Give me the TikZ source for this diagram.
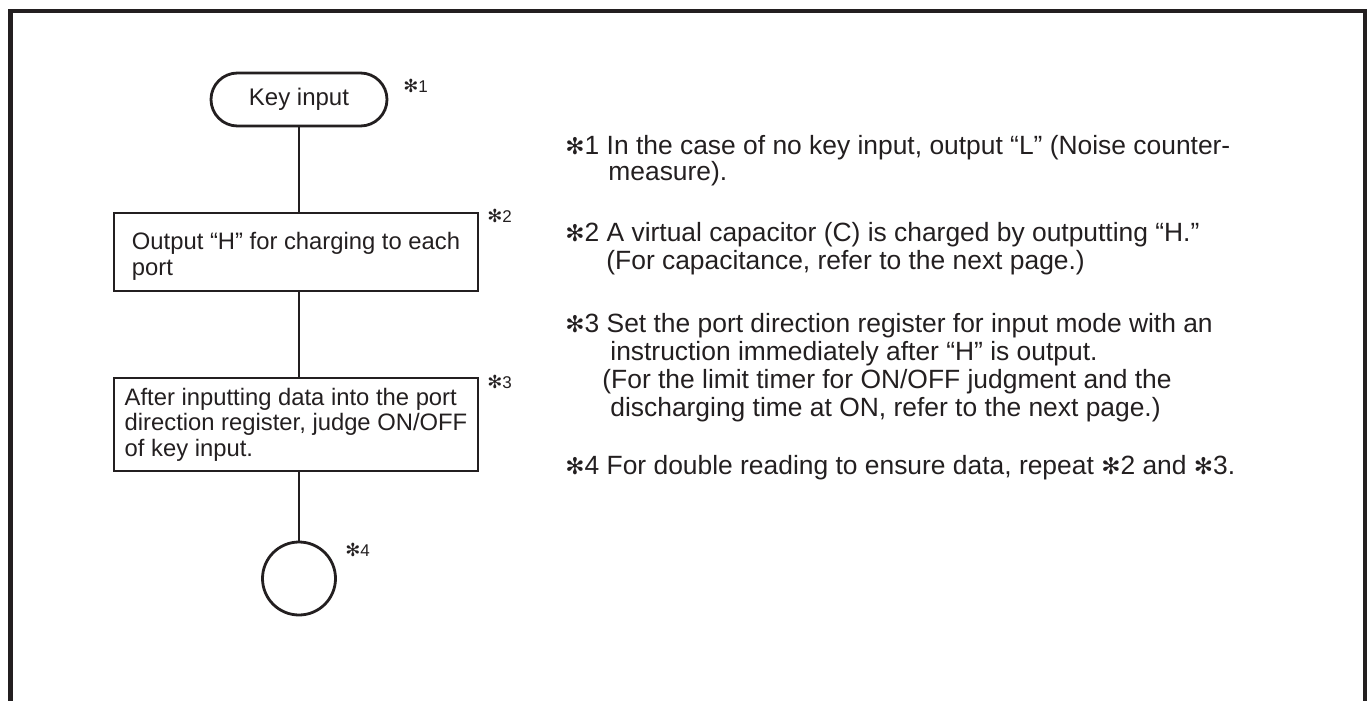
\documentclass[tikz,border=0pt]{standalone}
\usepackage{fontspec}
\setmainfont{Liberation Sans}
\newfontfamily\dv{DejaVu Sans}
\usetikzlibrary{shapes.misc}
\definecolor{ink}{RGB}{35,31,32}
\newcommand{\ak}{{\dv\fontsize{11.5}{11.5}\selectfont ✻}}
\newcommand{\sak}{{\dv\fontsize{9}{9}\selectfont ✻}}
\begin{document}
\begin{tikzpicture}[x=0.5pt,y=-0.5pt,
  every node/.style={text=ink},
  frame/.style={draw=ink, line width=2.2pt},
  conn/.style={draw=ink, line width=1.4pt},
  term/.style={draw=ink, line width=1.4pt, rounded rectangle, minimum width=88pt, minimum height=26.5pt, inner sep=0pt, font=\fontsize{12}{12}\selectfont},
  box/.style={draw=ink, line width=1.4pt, rectangle, minimum width=182pt, align=left, inner sep=0pt, font=\fontsize{11.9}{12.8}\selectfont},
  conn2/.style={draw=ink, line width=1.4pt, circle, minimum size=36.5pt, inner sep=0pt},
  starlbl/.style={anchor=west, inner sep=0pt, font=\fontsize{8.5}{8.5}\selectfont},
  note/.style={anchor=base west, inner sep=0pt, font=\fontsize{13.2}{13.2}\selectfont}]
\useasboundingbox (0,0) rectangle (1371,701);
\draw[frame] (10.5,701) -- (10.5,11) -- (1365,11) -- (1365,701);

\node[term] (ki) at (299,99.5) {Key input};
\node[box, minimum height=39pt] (b2) at (296,252) {\rule{0pt}{13pt}Output “H” for charging to each\\port};
\node[box, minimum height=46.5pt] (b3) at (296,424.5) {After inputting data into the port\\direction register, judge ON/OFF\\of key input.};
\node[conn2] (c4) at (299,578.5) {};

\draw[conn] (ki.south) -- (ki.south |- b2.north);
\draw[conn] (ki.south |- b2.south) -- (ki.south |- b3.north);
\draw[conn] (ki.south |- b3.south) -- (c4.north);

\node[starlbl] (m1) at (403,86) {\sak1};
\node[starlbl] (m2) at (487,216) {\sak2};
\node[starlbl] (m3) at (487,382) {\sak3};
\node[starlbl] (m4) at (345,550) {\sak4};

\node[note] (n1a) at (565,155) {\ak1 In the case of no key input, output “L” (Noise counter-};
\node[note] (n1b) at (608,181) {measure).};
\node[note] (n2a) at (565,242) {\ak2 A virtual capacitor (C) is charged by outputting “H.”};
\node[note] (n2b) at (606,269) {(For capacitance, refer to the next page.)};
\node[note] (n3a) at (565,332) {\ak3 Set the port direction register for input mode with an};
\node[note] (n3b) at (610,360) {instruction immediately after “H” is output.};
\node[note] (n3c) at (602,388) {(For the limit timer for ON/OFF judgment and the};
\node[note] (n3d) at (610,416) {discharging time at ON, refer to the next page.)};
\node[note] (n4a) at (565,474) {\ak4 For double reading to ensure data, repeat \ak2 and \ak3.};
\end{tikzpicture}
\end{document}
